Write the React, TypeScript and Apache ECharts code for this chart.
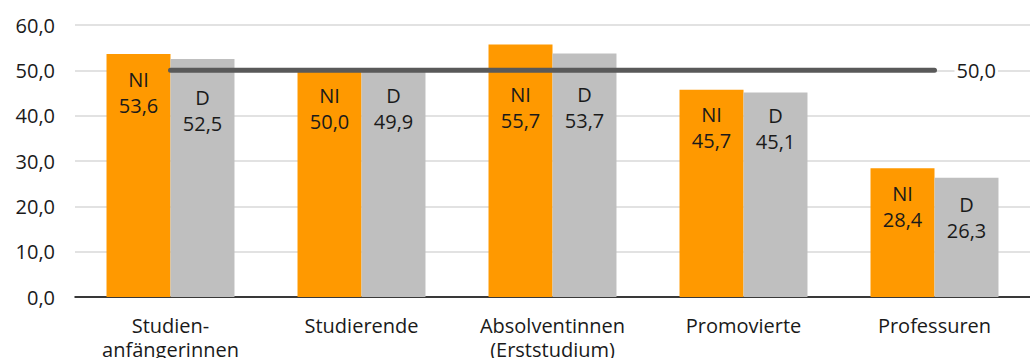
import React, { useEffect, useRef } from "react";
import * as echarts from "echarts";

const categories = [
  "Studien-\nanfängerinnen",
  "Studierende",
  "Absolventinnen\n(Erststudium)",
  "Promovierte",
  "Professuren",
];
const seriesNI = [53.6, 50.0, 55.7, 45.7, 28.4];
const seriesD = [52.5, 49.9, 53.7, 45.1, 26.3];
const parityLine = [50, 50, 50, 50, 50];
const yTicks = { min: 0, max: 60, interval: 10 };

// label placement (styling only)
const niLabelDistance = [12, 12, 37, 12, 12];
const dLabelDistance = [25, 12, 28, 10, 14];

const fmt = (v: number) => v.toFixed(1).replace(".", ",");
const FONT = "'Open Sans', 'Noto Sans', sans-serif";

export default function App() {
  const ref = useRef<HTMLDivElement>(null);
  useEffect(() => {
    if (!ref.current) return;
    const chart = echarts.init(ref.current, null, { renderer: "svg" });
    const labelBase = {
      show: true,
      position: "insideTop",
      color: "#1a1a1a",
      fontSize: 20,
      lineHeight: 26,
      fontFamily: FONT,
    };
    chart.setOption({
      animation: false,
      grid: {
        left: 75,
        right: 0,
        top: 25,
        bottom: 61,
        containLabel: false,
        outerBoundsMode: "none",
      },
      xAxis: {
        type: "category",
        data: categories,
        axisLine: { lineStyle: { color: "#000", width: 1.5 } },
        axisTick: { show: false },
        axisLabel: {
          color: "#1a1a1a",
          fontSize: 20,
          lineHeight: 24,
          margin: 16,
          fontFamily: FONT,
          interval: 0,
        },
      },
      yAxis: {
        type: "value",
        min: yTicks.min,
        max: yTicks.max,
        interval: yTicks.interval,
        axisLine: { show: false },
        axisTick: { show: false },
        splitLine: { lineStyle: { color: "#d9d9d9", width: 1.5 } },
        axisLabel: {
          color: "#1a1a1a",
          fontSize: 20,
          margin: 20,
          fontFamily: FONT,
          formatter: (v: number) => fmt(v),
        },
      },
      series: [
        {
          name: "NI",
          type: "bar",
          barGap: "0%",
          barCategoryGap: "33%",
          itemStyle: { color: "#ff9900" },
          data: seriesNI.map((v, i) => ({
            value: v,
            label: { distance: niLabelDistance[i] },
          })),
          label: { ...labelBase, formatter: (p: any) => `NI\n${fmt(p.value)}` },
        },
        {
          name: "D",
          type: "bar",
          itemStyle: { color: "#bfbfbf" },
          data: seriesD.map((v, i) => ({
            value: v,
            label: { distance: dLabelDistance[i] },
          })),
          label: { ...labelBase, formatter: (p: any) => `D\n${fmt(p.value)}` },
        },
        {
          name: "Parität",
          type: "line",
          data: parityLine,
          symbol: "none",
          z: 5,
          lineStyle: { color: "#595959", width: 5, cap: "round" },
          endLabel: {
            show: true,
            formatter: (p: any) => fmt(p.value),
            color: "#1a1a1a",
            fontSize: 20,
            fontFamily: FONT,
            distance: 20,
            backgroundColor: "#fff",
            padding: [0, 2, 0, 2],
          },
        },
      ],
    });
    return () => chart.dispose();
  }, []);
  return (
    <div
      ref={ref}
      style={{ position: "absolute", left: 0, top: 0, width: 1030, height: 358 }}
    />
  );
}
